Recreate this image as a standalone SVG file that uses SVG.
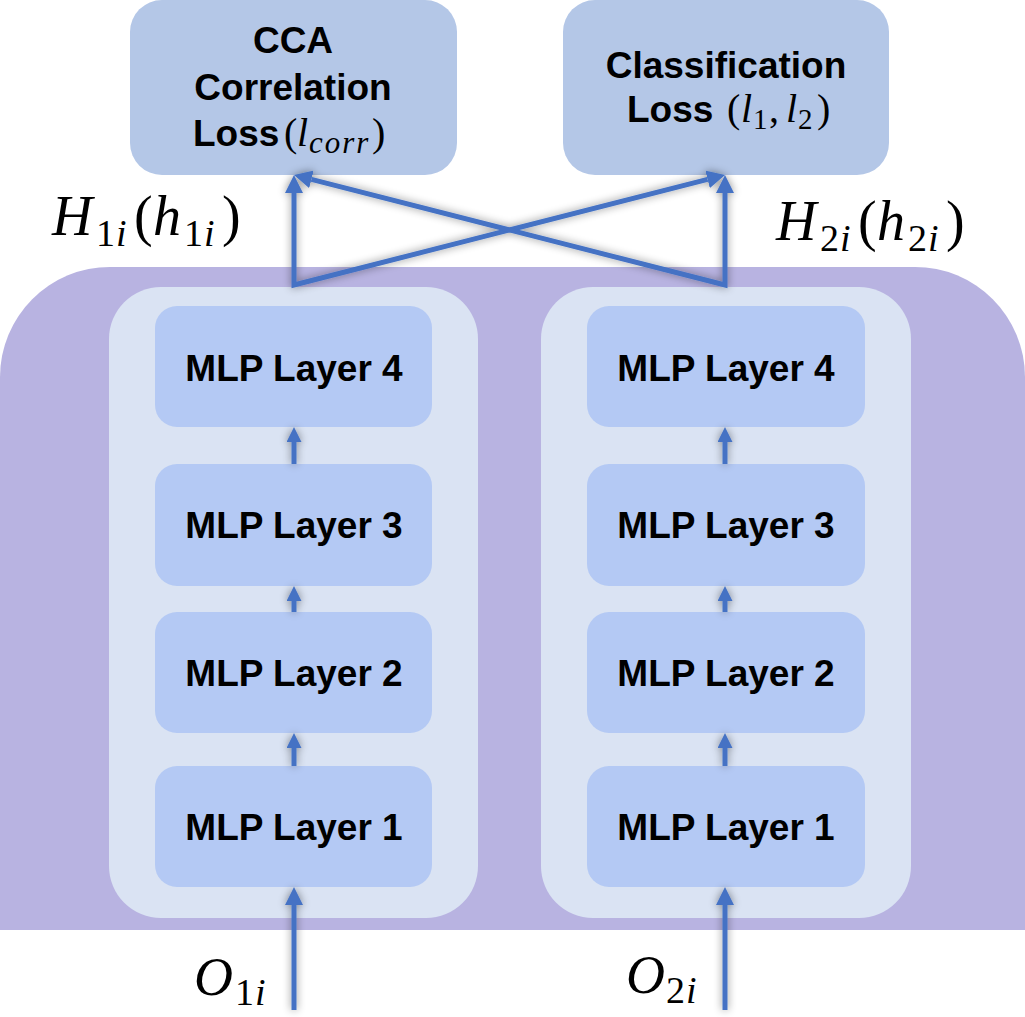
<svg xmlns="http://www.w3.org/2000/svg" width="1025" height="1017" viewBox="0 0 1025 1017">
  <style>
    .loss { fill: #b4c7e7; }
    .panel { fill: #dae3f3; }
    .mlp { fill: #b4c9f4; }
    .lbl { font-family: "Liberation Sans", Arial, sans-serif; font-weight: bold; font-size: 37px; fill: #000; text-anchor: middle; }
    .math { font-family: "Liberation Serif", "Times New Roman", serif; font-style: italic; fill: #000; }
    .up { font-style: normal; }
    .conn { fill: none; stroke: #4472c4; stroke-width: 5; stroke-linejoin: miter; }
  </style>
  <defs>
    <marker id="ah" markerUnits="userSpaceOnUse" markerWidth="18" markerHeight="18" viewBox="0 0 18 18" refX="0" refY="9" orient="auto-start-reverse">
      <path d="M0,0 L18,9 L0,18 Z" fill="#4472c4"/>
    </marker>
    <marker id="ahs" markerUnits="userSpaceOnUse" markerWidth="15" markerHeight="15" viewBox="0 0 15 15" refX="0" refY="7.5" orient="auto">
      <path d="M0,0 L15,7.5 L0,15 Z" fill="#4472c4"/>
    </marker>
    <filter id="sh" x="-20%" y="-20%" width="140%" height="140%">
      <feGaussianBlur in="SourceAlpha" stdDeviation="4" result="b"/>
      <feFlood flood-color="#000" flood-opacity="0.45"/>
      <feComposite in2="b" operator="in" result="s"/>
      <feMerge><feMergeNode in="s"/><feMergeNode in="SourceGraphic"/></feMerge>
    </filter>
  </defs>

  <rect width="1025" height="1017" fill="#ffffff"/>

  <g id="background">
    <path d="M0,930 L0,377 A110,110 0 0 1 110,267 L915,267 A110,110 0 0 1 1025,377 L1025,930 Z" fill="#b8b3e1"/>
  </g>

  <g id="panel-left"><rect class="panel" x="109" y="287" width="369" height="631" rx="52"/></g>
  <g id="panel-right"><rect class="panel" x="541" y="287" width="370" height="631" rx="52"/></g>

  <g id="cca-loss">
    <rect class="loss" x="130" y="0" width="327" height="175" rx="32"/>
    <text class="lbl" x="293" y="53">CCA</text>
    <text class="lbl" x="293" y="100">Correlation</text>
    <text y="146"><tspan class="lbl" x="193" style="text-anchor:start">Loss</tspan><tspan class="math up" x="284" font-size="40">(</tspan><tspan class="math" x="297" font-size="40">l</tspan><tspan class="math" x="309" y="153" font-size="31" letter-spacing="2">corr</tspan><tspan class="math up" x="372" y="146" font-size="40">)</tspan></text>
  </g>

  <g id="classification-loss">
    <rect class="loss" x="563" y="0" width="326" height="175" rx="32"/>
    <text class="lbl" x="726" y="78">Classification</text>
    <text y="122"><tspan class="lbl" x="627" style="text-anchor:start">Loss</tspan><tspan class="math up" x="727" font-size="40">(</tspan><tspan class="math" x="741" font-size="40">l</tspan><tspan class="math up" x="753" y="129" font-size="29">1</tspan><tspan class="math up" x="769" y="122" font-size="40">,</tspan><tspan class="math" x="786" font-size="40">l</tspan><tspan class="math up" x="798" y="129" font-size="29">2</tspan><tspan class="math up" x="817" y="122" font-size="40">)</tspan></text>
  </g>

  <g id="mlp1-left"><rect class="mlp" x="155" y="766" width="277" height="121" rx="22"/><text class="lbl" x="294" y="840">MLP Layer 1</text></g>
  <g id="mlp2-left"><rect class="mlp" x="155" y="612" width="277" height="121" rx="22"/><text class="lbl" x="294" y="686">MLP Layer 2</text></g>
  <g id="mlp3-left"><rect class="mlp" x="155" y="464" width="277" height="122" rx="22"/><text class="lbl" x="294" y="538">MLP Layer 3</text></g>
  <g id="mlp4-left"><rect class="mlp" x="155" y="306" width="277" height="121" rx="22"/><text class="lbl" x="294" y="381">MLP Layer 4</text></g>

  <g id="mlp1-right"><rect class="mlp" x="587" y="766" width="278" height="121" rx="22"/><text class="lbl" x="726" y="840">MLP Layer 1</text></g>
  <g id="mlp2-right"><rect class="mlp" x="587" y="612" width="278" height="121" rx="22"/><text class="lbl" x="726" y="686">MLP Layer 2</text></g>
  <g id="mlp3-right"><rect class="mlp" x="587" y="464" width="278" height="122" rx="22"/><text class="lbl" x="726" y="538">MLP Layer 3</text></g>
  <g id="mlp4-right"><rect class="mlp" x="587" y="306" width="278" height="121" rx="22"/><text class="lbl" x="726" y="381">MLP Layer 4</text></g>

  <g id="label-h1">
    <text class="math" font-size="56"><tspan x="52" y="235">H</tspan><tspan class="up" x="96" y="246" font-size="38">1</tspan><tspan x="116" y="246" font-size="38">i</tspan><tspan class="up" x="134" y="235">(</tspan><tspan x="153" y="235">h</tspan><tspan class="up" x="184" y="246" font-size="38">1</tspan><tspan x="204" y="246" font-size="38">i</tspan><tspan class="up" x="222" y="235">)</tspan></text>
  </g>
  <g id="label-h2">
    <text class="math" font-size="56"><tspan x="776" y="240">H</tspan><tspan class="up" x="820" y="251" font-size="38">2</tspan><tspan x="840" y="251" font-size="38">i</tspan><tspan class="up" x="858" y="240">(</tspan><tspan x="877" y="240">h</tspan><tspan class="up" x="908" y="251" font-size="38">2</tspan><tspan x="928" y="251" font-size="38">i</tspan><tspan class="up" x="946" y="240">)</tspan></text>
  </g>
  <g id="label-o1">
    <text class="math" font-size="54"><tspan x="194" y="995">O</tspan><tspan class="up" x="235" y="1005" font-size="38">1</tspan><tspan x="255" y="1005" font-size="38">i</tspan></text>
  </g>
  <g id="label-o2">
    <text class="math" font-size="54"><tspan x="626" y="993">O</tspan><tspan class="up" x="666" y="1003" font-size="38">2</tspan><tspan x="686" y="1003" font-size="38">i</tspan></text>
  </g>

  <g id="connectors" filter="url(#sh)">
    <path class="conn" d="M294,193 L294,285 L707.6,179.4" marker-start="url(#ah)" marker-end="url(#ah)"/>
    <path class="conn" d="M725,193 L725,285 L311.4,179.4" marker-start="url(#ah)" marker-end="url(#ah)"/>
    <path class="conn" d="M294,464 L294,442" marker-end="url(#ahs)"/>
    <path class="conn" d="M294,612 L294,601" marker-end="url(#ahs)"/>
    <path class="conn" d="M294,766 L294,748" marker-end="url(#ahs)"/>
    <path class="conn" d="M725,464 L725,442" marker-end="url(#ahs)"/>
    <path class="conn" d="M725,612 L725,601" marker-end="url(#ahs)"/>
    <path class="conn" d="M725,766 L725,748" marker-end="url(#ahs)"/>
    <path class="conn" d="M294,1010 L294,905" marker-end="url(#ah)"/>
    <path class="conn" d="M725,1010 L725,905" marker-end="url(#ah)"/>
  </g>
</svg>
